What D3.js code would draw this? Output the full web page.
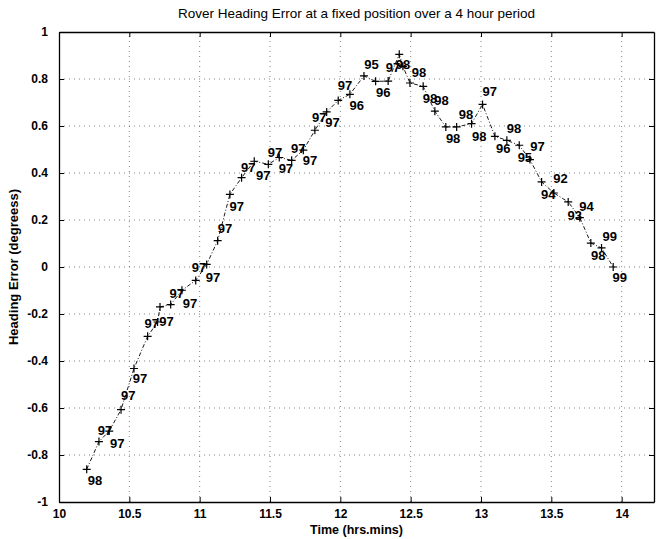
<!DOCTYPE html>
<html>
<head>
<meta charset="utf-8">
<script src="https://cdn.jsdelivr.net/npm/d3@7"></script>
<style>
  body { margin: 0; background: #fff; }
  text { font-family: "Liberation Sans", Arial, sans-serif; fill: #000; }
</style>
</head>
<body>
<div class="chart-container"></div>
<script>
//! CONSTS
const WIDTH = 661;
const HEIGHT = 539;
const M = { top: 32, right: 7, bottom: 37, left: 59 };

//! DATA
const timeHrs = [10.197, 10.284, 10.357, 10.441, 10.533, 10.630, 10.701, 10.718, 10.794, 10.874,
  10.972, 11.050, 11.128, 11.215, 11.298, 11.388, 11.488, 11.566, 11.654, 11.737,
  11.819, 11.903, 11.985, 12.068, 12.168, 12.251, 12.340, 12.419, 12.445, 12.495,
  12.589, 12.672, 12.750, 12.827, 12.933, 13.011, 13.099, 13.184, 13.272, 13.348,
  13.431, 13.518, 13.620, 13.703, 13.781, 13.857, 13.940];
const headingErr = [-0.861, -0.743, -0.698, -0.607, -0.432, -0.295, -0.234, -0.170, -0.160, -0.099,
  -0.057, 0.011, 0.112, 0.309, 0.380, 0.450, 0.437, 0.466, 0.454, 0.497,
  0.582, 0.660, 0.709, 0.735, 0.813, 0.790, 0.791, 0.905, 0.854, 0.783,
  0.769, 0.663, 0.596, 0.596, 0.610, 0.692, 0.556, 0.539, 0.518, 0.457,
  0.362, 0.315, 0.277, 0.210, 0.102, 0.081, 0.000];

// annotation numbers and where they sit (data units)
const noteText = ['98', '97', '97', '97', '97', '97', '97', '97', '97', '97',
  '97', '97', '97', '97', '97', '97', '97', '97', '97', '97',
  '97', '97', '96', '95', '96', '97', '98', '98', '98', '98',
  '98', '98', '98', '97', '96', '98', '97', '95', '92', '94',
  '94', '93', '99', '98', '99'];
const noteX = [10.256, 10.327, 10.414, 10.493, 10.576, 10.659, 10.765, 10.837, 10.931, 10.995,
  11.095, 11.180, 11.263, 11.345, 11.452, 11.535, 11.613, 11.701, 11.784, 11.850,
  11.945, 12.033, 12.116, 12.222, 12.305, 12.374, 12.445, 12.559, 12.637, 12.720,
  12.802, 12.893, 12.987, 13.063, 13.158, 13.234, 13.402, 13.312, 13.566, 13.478,
  13.750, 13.667, 13.916, 13.833, 13.987];
const noteY = [-0.907, -0.695, -0.749, -0.546, -0.474, -0.241, -0.230, -0.111, -0.153, -0.001,
  -0.043, 0.163, 0.258, 0.424, 0.390, 0.487, 0.419, 0.504, 0.454, 0.638,
  0.613, 0.773, 0.688, 0.863, 0.742, 0.850, 0.863, 0.830, 0.717, 0.709,
  0.546, 0.650, 0.556, 0.745, 0.504, 0.589, 0.511, 0.466, 0.376, 0.309,
  0.258, 0.220, 0.131, 0.050, -0.043];

const xTicks = [10, 10.5, 11, 11.5, 12, 12.5, 13, 13.5, 14];
const yTicks = [-1, -0.8, -0.6, -0.4, -0.2, 0, 0.2, 0.4, 0.6, 0.8, 1];

const TITLE = 'Rover Heading Error at a fixed position over a 4 hour period';
const X_LABEL = 'Time (hrs.mins)';
const Y_LABEL = 'Heading Error (degreess)';

//! SVG
const svg = d3.select('.chart-container')
  .append('svg')
  .attr('width', WIDTH)
  .attr('height', HEIGHT);

const x = d3.scaleLinear().domain([10, 14.23]).range([M.left, WIDTH - M.right]);
const y = d3.scaleLinear().domain([-1, 1]).range([HEIGHT - M.bottom, M.top]);

const fmt = v => String(+v.toFixed(1));

// grid
svg.append('g').attr('class', 'grid')
  .selectAll('line.gx').data(xTicks.slice(1)).enter().append('line')
  .attr('x1', d => x(d)).attr('x2', d => x(d))
  .attr('y1', y(-1)).attr('y2', y(1));
svg.select('.grid')
  .selectAll('line.gy').data(yTicks.slice(1, -1)).enter().append('line')
  .attr('x1', x.range()[0]).attr('x2', x.range()[1])
  .attr('y1', d => y(d)).attr('y2', d => y(d));
svg.selectAll('.grid line')
  .attr('stroke', '#666').attr('stroke-width', 0.8)
  .attr('stroke-dasharray', '1,4');

// axes, ticks inward on all four sides
const TL = 5;
const axB = svg.append('g').attr('transform', `translate(0,${y(-1)})`)
  .call(d3.axisBottom(x).tickValues(xTicks).tickFormat(fmt).tickSizeInner(-TL).tickSizeOuter(0).tickPadding(7));
const axT = svg.append('g').attr('transform', `translate(0,${y(1)})`)
  .call(d3.axisTop(x).tickValues(xTicks).tickFormat('').tickSizeInner(-TL).tickSizeOuter(0));
const axL = svg.append('g').attr('transform', `translate(${x(10)},0)`)
  .call(d3.axisLeft(y).tickValues(yTicks).tickFormat(fmt).tickSizeInner(-TL).tickSizeOuter(0).tickPadding(11));
const axR = svg.append('g').attr('transform', `translate(${x.range()[1]},0)`)
  .call(d3.axisRight(y).tickValues(yTicks).tickFormat('').tickSizeInner(-TL).tickSizeOuter(0));

[axB, axT, axL, axR].forEach(a => {
  a.select('.domain').attr('stroke', '#000').attr('stroke-width', 1.3);
  a.selectAll('.tick line').attr('stroke', '#000').attr('stroke-width', 1);
  a.selectAll('.tick text')
    .style('font-family', '"Liberation Sans", Arial, sans-serif')
    .style('font-size', '12px').style('font-weight', 'bold').attr('fill', '#000');
});

// line (dash-dot) and + markers
const line = d3.line().x((d, i) => x(timeHrs[i])).y(d => y(d));
svg.append('path')
  .datum(headingErr)
  .attr('d', line)
  .attr('fill', 'none')
  .attr('stroke', '#000')
  .attr('stroke-width', 0.9)
  .attr('stroke-dasharray', '4,2,1,2');

const S = 4;
svg.append('g').selectAll('path.mk')
  .data(headingErr).enter().append('path')
  .attr('class', 'mk')
  .attr('d', (d, i) => {
    const cx = x(timeHrs[i]), cy = y(d);
    return `M${cx - S},${cy}H${cx + S}M${cx},${cy - S}V${cy + S}`;
  })
  .attr('stroke', '#000').attr('stroke-width', 1.2);

// numeric annotations
svg.append('g').selectAll('text')
  .data(noteText).enter().append('text')
  .attr('x', (d, i) => x(noteX[i]))
  .attr('y', (d, i) => y(noteY[i]))
  .attr('text-anchor', 'middle')
  .attr('dy', '0.35em')
  .style('font-size', '13px')
  .style('font-weight', 'bold')
  .text(d => d);

// titles
const cx = (x.range()[0] + x.range()[1]) / 2;
svg.append('text').attr('x', cx).attr('y', 18)
  .attr('text-anchor', 'middle').style('font-size', '13.5px').text(TITLE);
svg.append('text').attr('x', cx).attr('y', 534)
  .attr('text-anchor', 'middle').style('font-size', '12.5px').style('font-weight', 'bold').text(X_LABEL);
svg.append('text').attr('transform', `translate(18,${y(0)}) rotate(-90)`)
  .attr('text-anchor', 'middle').style('font-size', '13px').style('font-weight', 'bold').text(Y_LABEL);
</script>
</body>
</html>
